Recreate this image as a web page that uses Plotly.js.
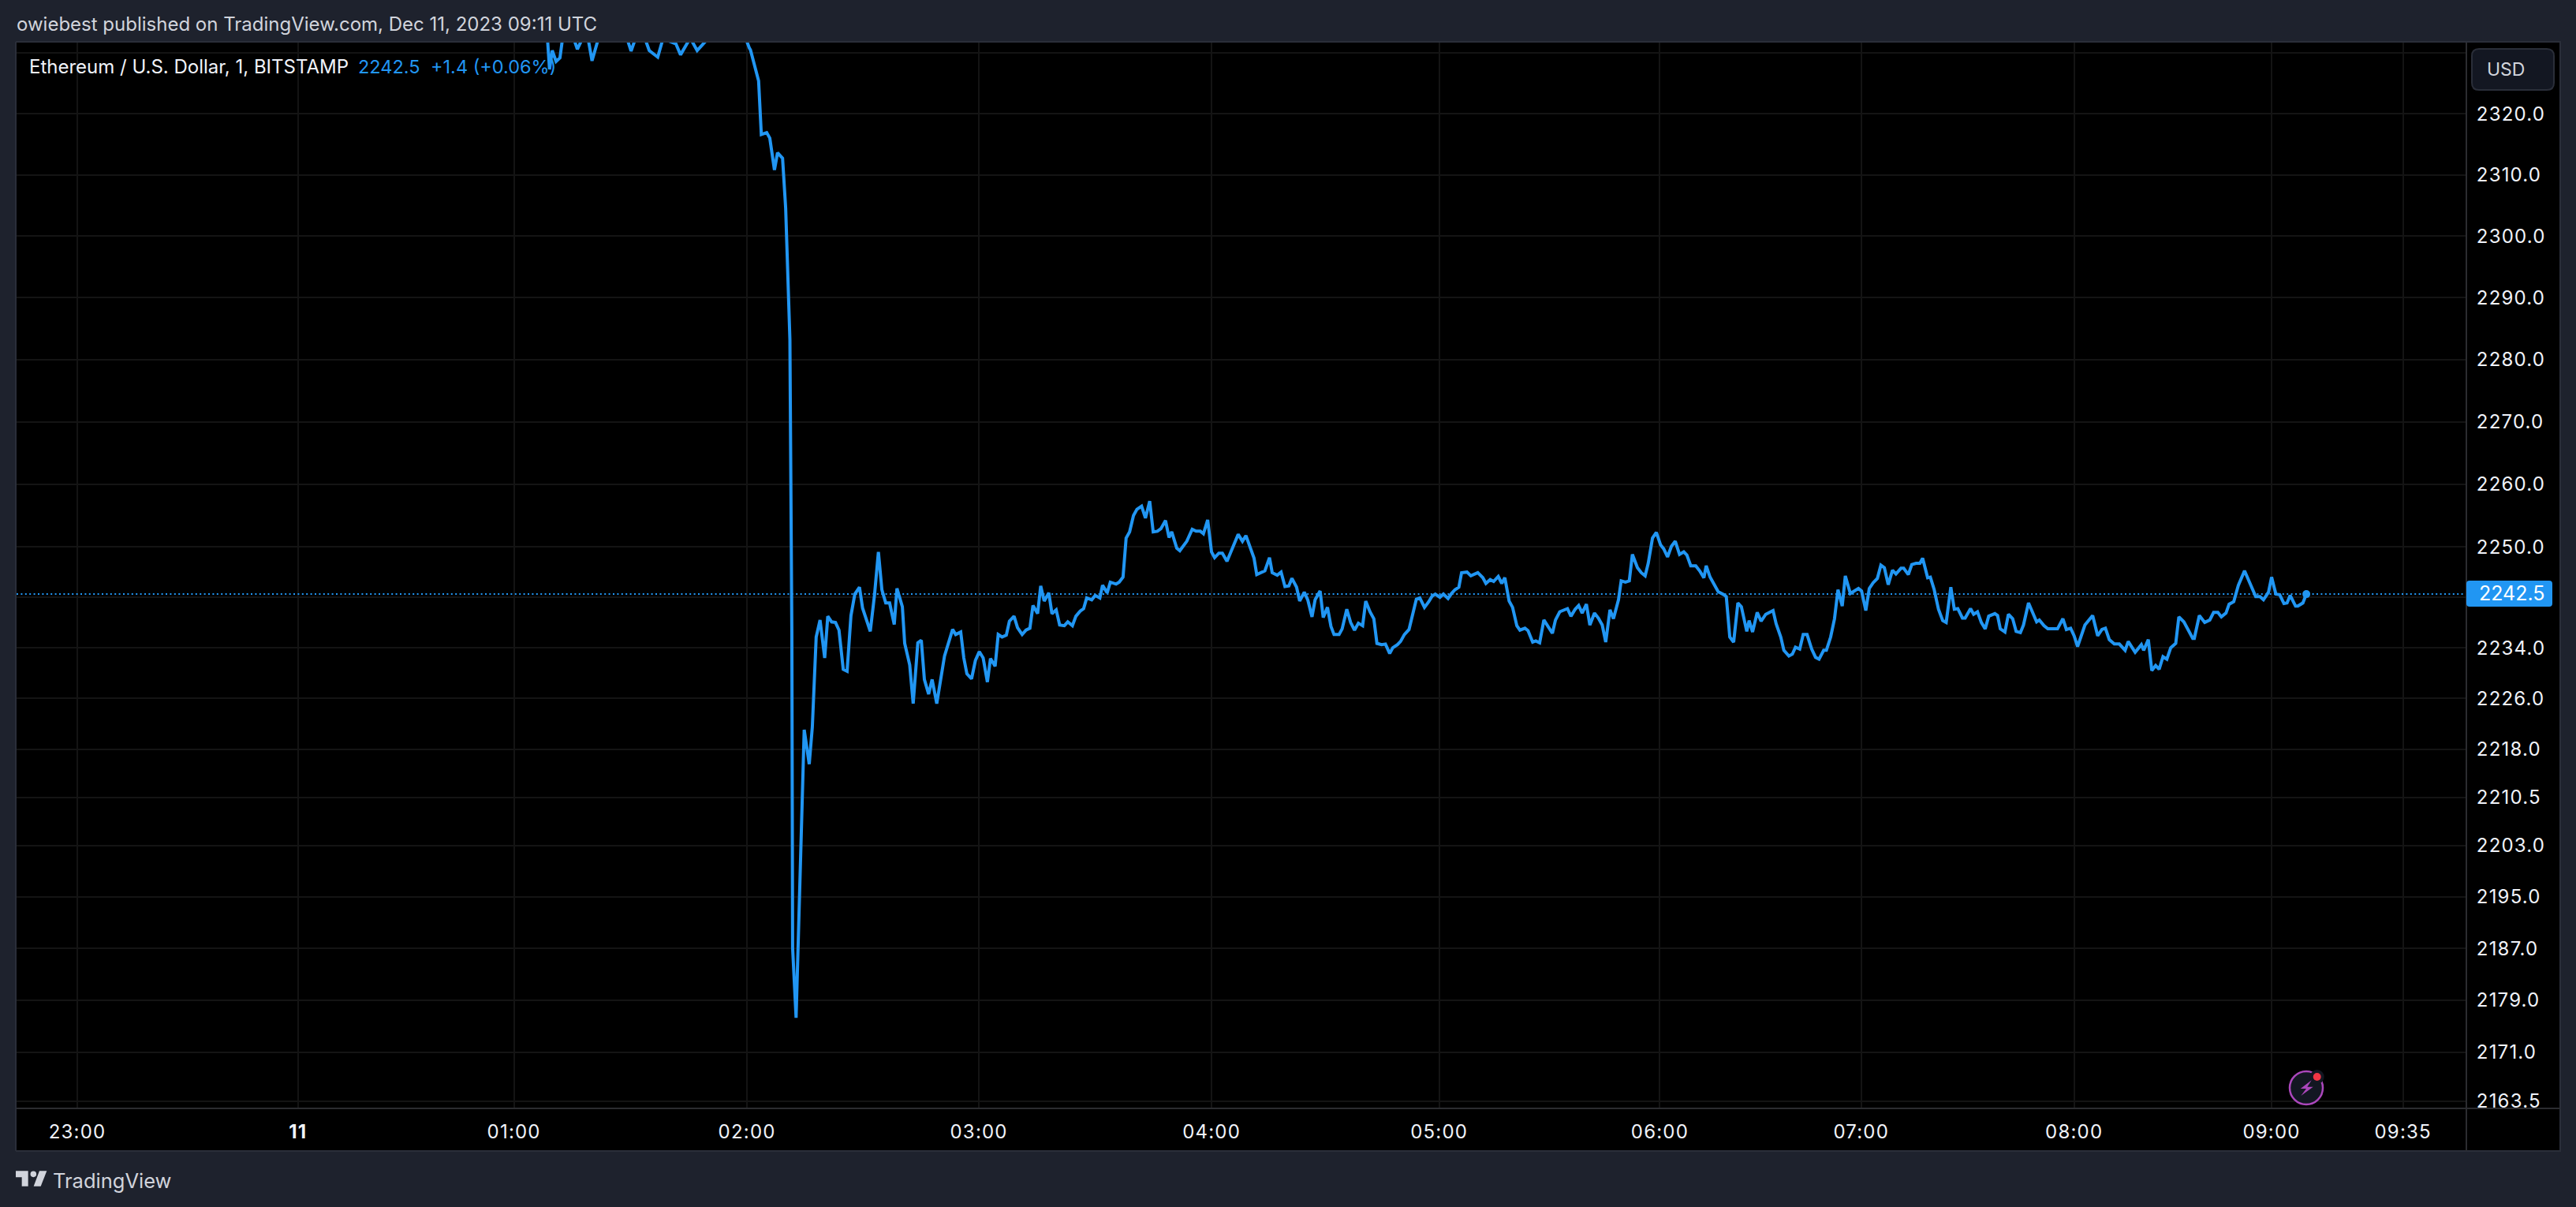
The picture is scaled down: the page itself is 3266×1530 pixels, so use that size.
<!DOCTYPE html>
<html>
<head>
<meta charset="utf-8">
<script src="https://cdn.plot.ly/plotly-3.0.1.min.js"></script>
<style>html,body{margin:0;padding:0;background:#1e222d;overflow:hidden}#chart{width:3266px;height:1530px}
.xtick text,.ytick text{letter-spacing:1.2px}</style>
</head>
<body>
<div id="chart"></div>
<script>
// Bar position on the chart's compressed time scale (0 = 23:00 bar)
const barPosition = [
120.8,121.6,122.2,122.9,123.9,124.9,125.7,128.4,129.4,130.8,
132.0,133.2,134.9,137.1,140.2,142.2,143.3,144.5,145.7,147.1,
148.0,150.2,151.4,152.9,154.9,156.1,158.2,159.0,160.4,162.7,
164.7,168.8,171.8,172.9,173.9,174.2,176.3,177.0,178.4,179.2,
180.4,181.2,182.5,183.3,184.4,184.9,185.1,185.5,186.0,188.1,
189.4,190.2,191.2,192.2,193.4,194.2,195.2,196.2,197.1,198.2,
199.2,200.2,201.2,202.4,203.2,205.2,206.3,207.3,208.2,209.2,
210.2,211.4,212.1,213.5,214.1,215.4,216.3,217.5,218.4,219.2,
220.3,221.2,222.4,224.4,226.5,227.3,228.6,229.4,230.2,231.4,
232.4,233.4,234.4,235.5,236.3,237.5,238.3,239.3,240.4,241.2,
242.4,243.3,244.5,245.5,246.5,247.3,248.5,249.3,250.2,251.4,
252.2,253.3,254.2,255.4,256.3,257.5,258.4,259.5,260.4,261.2,
262.5,263.4,264.6,265.3,266.5,267.3,268.8,269.6,270.6,271.4,
272.3,273.3,274.2,275.4,276.4,277.5,278.4,279.5,280.4,281.6,
282.5,283.2,284.5,285.3,287.1,288.5,289.5,290.6,291.4,292.5,
293.5,294.3,295.4,296.3,297.5,300.4,301.5,302.4,304.5,305.2,
307.3,308.5,309.2,310.5,311.5,312.5,313.5,314.3,315.5,316.3,
317.5,318.4,319.5,320.3,321.6,322.4,323.5,324.4,325.2,326.5,
327.3,328.5,329.5,330.5,331.5,332.6,333.4,334.5,335.5,336.3,
337.5,338.5,339.6,340.4,341.6,342.4,343.4,344.6,345.5,346.5,
347.4,348.6,349.6,350.6,351.4,352.6,353.5,354.7,355.6,356.5,
357.5,358.2,359.6,360.6,362.4,363.7,364.5,365.6,366.5,367.7,
368.6,369.4,370.5,371.4,372.5,373.3,374.6,375.4,376.6,377.4,
378.4,379.5,381.7,382.5,383.6,384.6,385.6,386.5,387.6,388.5,
389.4,390.5,391.4,392.6,393.6,394.6,395.5,396.6,397.5,398.8,
399.5,400.6,401.6,402.4,403.7,404.7,405.7,406.5,407.6,408.6,
409.7,410.5,411.5,412.5,413.5,414.6,415.7,416.5,417.5,418.8,
419.8,420.9,421.5,422.5,423.8,424.6,426.1,426.7,427.6,428.6,
429.7,430.6,432.0,432.6,433.5,434.7,435.7,436.9,438.8,439.6,
440.8,441.6,442.9,443.8,444.6,445.7,446.6,447.6,448.8,449.8,
450.7,451.9,452.6,453.7,454.7,455.6,456.7,457.5,458.8,460.9,
461.7,462.8,463.7,464.7,465.8,466.7,467.6,468.6,469.7,470.6,
471.9,472.6,473.8,474.7,475.8,476.8,477.5,478.8,479.5,480.5,
481.6,482.7,483.6,484.8,485.7,486.6,487.8,488.5,489.9,490.7,
491.7,492.7,493.7,494.6,496.2,496.9,497.6,498.8,499.7,500.8,
501.7,502.8,503.6,504.9,507.0,507.7,508.9,509.9,512.4,513.8,
514.7,515.8,516.7,517.6,519.5,521.5,522.8,523.9,524.8,525.8,
527.1,528.4,529.9,530.7,532.5,534.1,534.7,535.9,536.8,537.8,
538.7,539.7,540.7,541.7,543.0,543.8,545.1,547.4,547.8,549.1,
550.5,551.8,552.8,553.9,554.8,556.0,556.8,558.0,559.2,560.8,
563.7,564.8,565.7,567.0,567.8,568.9,569.9,571.0,571.8,572.6,
574.0,574.6,575.9,576.8];
// ETH/USD close
const closePrice = [
2333,2333,2327.3,2330.4,2328.6,2329.2,2333,2332.5,2330.6,2332.5,
2333,2328.7,2332.5,2334,2334,2332.5,2330.3,2332.5,2332,2332,
2330.4,2329.3,2332,2332,2331.5,2329.7,2332,2332,2330.4,2332,
2334,2334,2333,2332.5,2330.8,2330.5,2325.4,2316.6,2316.9,2316.0,
2310.8,2313.6,2312.7,2304.6,2283.2,2236.5,2187.1,2183.1,2176.3,2221.1,
2215.7,2221.5,2235.7,2238.4,2232.4,2239.0,2238.1,2238.0,2236.8,2230.6,
2230.3,2239.1,2242.5,2243.6,2240.3,2236.6,2242.4,2249.2,2243.2,2241.1,
2241.1,2237.7,2243.4,2240.5,2234.7,2231.3,2225.2,2234.8,2235.2,2229.0,
2226.7,2229.0,2225.2,2232.7,2236.9,2236.1,2236.5,2232.4,2229.9,2229.1,
2232.0,2233.4,2232.4,2228.6,2232.3,2231.1,2236.1,2235.7,2236.0,2238.2,
2239.0,2237.2,2236.1,2236.8,2237.1,2240.7,2239.4,2243.8,2241.4,2242.7,
2239.4,2240.0,2237.6,2237.5,2238.1,2237.5,2239.0,2239.8,2240.2,2241.9,
2241.6,2242.3,2241.9,2243.9,2242.7,2244.4,2244.1,2244.4,2245.2,2251.4,
2252.4,2255.0,2256.0,2256.5,2254.6,2257.3,2252.4,2252.5,2252.9,2254.2,
2251.5,2252.4,2249.8,2249.4,2250.9,2252.8,2252.5,2252.5,2252.1,2254.3,
2249.2,2248.3,2249.0,2249.0,2247.7,2252.0,2250.9,2251.8,2248.2,2245.6,
2246.2,2248.3,2245.9,2245.5,2246.0,2243.7,2243.8,2245.0,2243.6,2241.4,
2242.8,2241.6,2238.9,2241.6,2243.0,2238.8,2240.4,2237.4,2236.1,2236.1,
2237.0,2240.1,2238.0,2236.8,2237.9,2237.5,2241.4,2239.7,2238.6,2234.7,
2234.5,2234.6,2233.1,2234.0,2234.5,2235.0,2236.1,2236.9,2239.1,2241.7,
2241.9,2240.4,2241.2,2242.2,2242.5,2242.0,2242.5,2241.8,2242.6,2243.2,
2243.6,2245.9,2246.0,2245.4,2245.9,2245.1,2244.2,2244.8,2244.5,2245.3,
2244.2,2245.1,2241.4,2240.4,2237.5,2236.8,2237.1,2236.7,2234.9,2235.1,
2234.8,2238.4,2236.3,2238.4,2239.7,2240.0,2240.2,2239.0,2240.1,2240.7,
2239.5,2240.9,2237.6,2239.5,2238.7,2237.6,2234.9,2240.0,2238.6,2241.6,
2244.6,2244.4,2244.6,2248.8,2246.7,2245.9,2245.4,2247.4,2251.4,2252.3,
2250.3,2249.7,2248.4,2250.1,2250.9,2248.8,2249.2,2248.7,2247.0,2247.0,
2246.2,2245.1,2247.0,2245.2,2243.7,2242.9,2242.4,2242.1,2235.7,2234.9,
2241.1,2240.5,2236.6,2238.3,2236.5,2239.6,2238.2,2239.3,2239.9,2237.8,
2235.7,2233.6,2232.7,2233.0,2234.1,2233.8,2236.1,2236.1,2233.8,2232.5,
2232.2,2233.6,2233.6,2235.7,2238.6,2243.2,2240.6,2245.4,2242.6,2243.4,
2243.0,2239.9,2243.4,2244.3,2245.0,2247.1,2246.7,2244.0,2246.3,2245.7,
2246.6,2246.6,2245.6,2247.2,2247.4,2247.4,2248.2,2245.1,2245.2,2243.2,
2240.1,2238.3,2238.0,2243.6,2240.1,2240.2,2238.7,2238.7,2240.2,2239.3,
2239.7,2238.0,2237.0,2239.0,2239.4,2239.1,2237.0,2236.5,2239.3,2238.6,
2236.6,2236.4,2237.6,2241.1,2238.1,2238.4,2237.5,2237.0,2237.0,2238.6,
2236.9,2237.1,2235.9,2234.2,2237.6,2239.1,2235.9,2236.9,2237.1,2235.3,
2234.6,2234.6,2233.6,2235.0,2233.3,2234.5,2233.6,2235.3,2230.4,2231.2,
2230.6,2232.6,2232.2,2234.0,2234.7,2238.9,2238.1,2235.5,2235.5,2239.1,
2238.0,2238.4,2239.6,2239.6,2238.9,2239.5,2240.9,2241.3,2243.9,2246.2,
2242.1,2242.1,2241.6,2242.8,2245.2,2242.5,2242.4,2241.0,2241.1,2242.3,
2240.6,2240.6,2241.1,2242.5];
const lastPrice = 2242.5;
const timeTickBars = [0,57.1,113,173.3,233.3,293.5,352.4,409.5,461.6,516.7,567.8,601.8];
const timeTickLabels = ['23:00','<b>11</b>','01:00','02:00','03:00','04:00','05:00','06:00','07:00','08:00','09:00','09:35'];
const priceTicks = [2330,2320,2310,2300,2290,2280,2270,2260,2250,2242,2234,2226,2218,2210.5,2203,2195,2187,2179,2171,2163.5];
const priceTickLabels = ['','2320.0','2310.0','2300.0','2290.0','2280.0','2270.0','2260.0','2250.0','','2234.0','2226.0','2218.0','2210.5','2203.0','2195.0','2187.0','2179.0','2171.0','2163.5'];
const xWindow = [-15.71,618.2];
const yWindow = [2162.4,2331.7];

const W=3266,H=1530,L=21,R=139,T=54,B=125;
const px=x=>(x-L)/(W-L-R), py=y=>1-(y-T)/(H-T-B);
const FONT='Inter, "Liberation Sans", sans-serif';
const BLUE='#2196f3', PANEL='#1e222d', EDGE='#2a2e39', DIV='#2b2c30', BTN='#131722', TXT='#d1d4dc';

function rectS(x0,y0,x1,y1,fill,layer){return {type:'rect',xref:'paper',yref:'paper',x0:px(x0),x1:px(x1),y0:py(y1),y1:py(y0),fillcolor:fill,line:{width:0},layer:layer||'below'};}
function lineS(x0,y0,x1,y1,c,w){return {type:'line',xref:'paper',yref:'paper',x0:px(x0),x1:px(x1),y0:py(y0),y1:py(y1),line:{color:c,width:w||2},layer:'above'};}
function pathS(pts,fill,stroke,sw){return {type:'path',xref:'paper',yref:'paper',path:'M'+pts.map(p=>px(p[0])+','+py(p[1])).join('L')+'Z',fillcolor:fill,line:{color:stroke||fill,width:sw||0},layer:'above'};}
function circS(cx,cy,r,fill,stroke,sw){return {type:'circle',xref:'paper',yref:'paper',x0:px(cx-r),x1:px(cx+r),y0:py(cy+r),y1:py(cy-r),fillcolor:fill,line:{color:stroke||fill,width:sw||0},layer:'above'};}
function roundS(x0,y0,x1,y1,r,fill,stroke){
  const P=(x,y)=>px(x)+','+py(y);
  return {type:'path',xref:'paper',yref:'paper',layer:'above',fillcolor:fill,line:{color:stroke||fill,width:stroke?2:0},
    path:'M'+P(x0+r,y0)+'L'+P(x1-r,y0)+'Q'+P(x1,y0)+' '+P(x1,y0+r)+'L'+P(x1,y1-r)+'Q'+P(x1,y1)+' '+P(x1-r,y1)+'L'+P(x0+r,y1)+'Q'+P(x0,y1)+' '+P(x0,y1-r)+'L'+P(x0,y0+r)+'Q'+P(x0,y0)+' '+P(x0+r,y0)+'Z'};
}
function note(text,x,y,size,color,anchor){return {text:text,xref:'paper',yref:'paper',x:px(x),y:py(y),xanchor:anchor||'left',yanchor:'middle',showarrow:false,font:{family:FONT,size:size,color:color},borderpad:0};}
const lx=z=>20+(z-60)/3, ly=z=>1350+z/3;

const shapes=[
  rectS(3127,54,3246,1459,'#000'),
  rectS(21,1405,3127,1459,'#000'),
  lineS(20,53,3247,53,EDGE,2),
  lineS(20,53,20,1459,EDGE,2),
  lineS(3246,53,3246,1459,EDGE,2),
  lineS(20,1459,3247,1459,EDGE,2),
  lineS(3127,54,3127,1459,DIV,2),
  lineS(21,1405,3246,1405,DIV,2),
  roundS(3134,62,3238,114,9,BTN,EDGE),
  roundS(3127,736,3236,769,4,BLUE),
  circS(2924,1379,21,BTN,'#ab47bc',2.5),
  circS(2937.7,1365,9,BTN),
  circS(2937.7,1365,5,'#f23645'),
  pathS([[2930.7,1369.3],[2916.7,1380],[2924,1380],[2917.3,1389],[2932.7,1377.7],[2925.3,1377.7]],'#ab47bc'),
  pathS([[60,403],[107,403],[107,461],[83,461],[83,427],[60,427]].map(p=>[lx(p[0]),ly(p[1])]),TXT),
  circS(lx(127),ly(415),3.8,TXT),
  pathS([[178,403],[155,461],[128,461],[150,403]].map(p=>[lx(p[0]),ly(p[1])]),TXT)
];
const annotations=[
  note('owiebest published on TradingView.com, Dec 11, 2023 09:11 UTC',20,30,24,TXT),
  note('Ethereum / U.S. Dollar, 1, BITSTAMP',36,85,24,'#f0f3fa'),
  note('2242.5',453,85,23.5,BLUE),
  note('+1.4 (+0.06%)',545,85,23.5,BLUE),
  note('USD',3152,88,23,TXT),
  note('2242.5',3142,752,25,'#ffffff'),
  note('TradingView',66,1496,25.5,TXT)
];
const traces=[
  {type:'scatter',mode:'lines',x:xWindow,y:[lastPrice,lastPrice],line:{color:BLUE,width:2,dash:'2px,3.4px'},hoverinfo:'skip',showlegend:false},
  {type:'scatter',mode:'lines',x:barPosition,y:closePrice,line:{color:BLUE,width:4,shape:'linear'},hoverinfo:'skip',showlegend:false},
  {type:'scatter',mode:'markers',x:[barPosition[barPosition.length-1]],y:[lastPrice],marker:{color:BLUE,size:10},hoverinfo:'skip',showlegend:false}
];
const layout={
  width:W,height:H,paper_bgcolor:PANEL,plot_bgcolor:'#000',showlegend:false,hovermode:false,
  margin:{l:L,r:R,t:T,b:B,pad:0},
  xaxis:{type:'linear',range:xWindow,tickmode:'array',tickvals:timeTickBars,ticktext:timeTickLabels,showgrid:true,gridcolor:'#141414',gridwidth:2,zeroline:false,showline:false,ticks:'outside',ticklen:0,ticklabelstandoff:8,tickfont:{family:FONT,size:24,color:'#f0f3fa'},tickangle:0,automargin:false},
  yaxis:{type:'log',side:'right',range:yWindow.map(Math.log10),tickmode:'array',tickvals:priceTicks,ticktext:priceTickLabels,showgrid:true,gridcolor:'#141414',gridwidth:2,zeroline:false,showline:false,ticks:'outside',ticklen:0,ticklabelstandoff:7,tickfont:{family:FONT,size:24,color:'#f0f3fa'},automargin:false},
  shapes:shapes,annotations:annotations
};
Plotly.newPlot('chart',traces,layout,{staticPlot:true,displayModeBar:false});
</script>
</body>
</html>
